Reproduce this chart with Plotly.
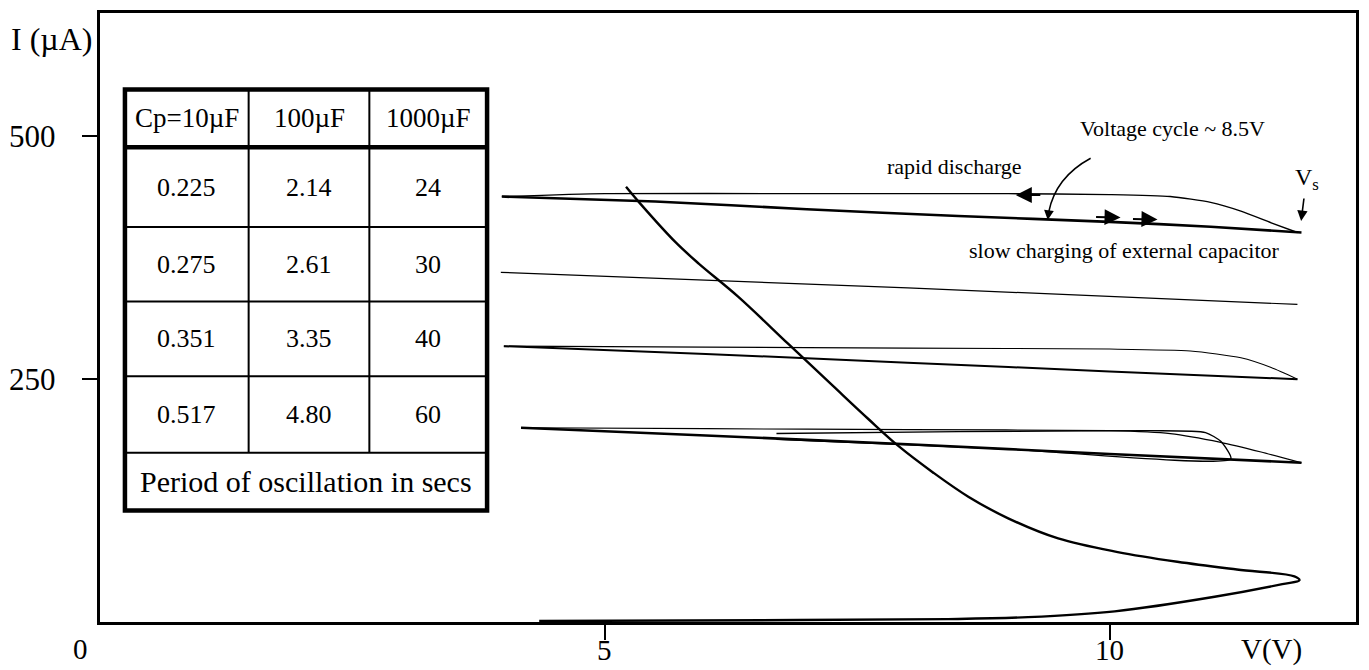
import plotly.graph_objects as go

# ---- data: current (uA) versus voltage (V) ----
# I-V characteristic of the device (load curve)
curve_v = [5.21, 5.34, 5.70, 5.93, 6.32, 6.82, 7.26, 7.61, 7.91, 8.25, 8.60, 8.99, 9.49, 10.08,
           10.67, 11.26, 11.83, 11.88, 11.71, 11.04, 10.05, 9.19, 8.40, 6.92, 4.35]
curve_i = [448, 432, 391, 369, 335, 286, 243, 209, 181, 154, 129, 107, 86, 72,
           62, 54, 47, 43, 39, 26, 11, 5, 3, 2, 1]

# cycle 1 (top trace): slow charging and rapid discharge branches
c1_charge_v = [3.98, 5.5, 7.0, 8.5, 10.0, 11.0, 11.9]
c1_charge_i = [438, 433, 425, 418, 412, 407, 401]
c1_dis_v = [3.98, 5.0, 7.0, 9.0, 10.0, 10.6, 11.0, 11.3, 11.6, 11.86]
c1_dis_i = [438, 441, 441, 441, 440, 438, 432, 423, 411, 401]

# cycle 2
c2_v = [3.97, 8.0, 11.86]
c2_i = [360, 344, 327]

# cycle 3
c3_charge_v = [4.0, 6.0, 8.0, 10.0, 11.86]
c3_charge_i = [284, 276, 267, 258, 250]
c3_dis_v = [4.0, 6.0, 8.0, 10.0, 10.8, 11.3, 11.6, 11.86]
c3_dis_i = [284, 283, 282, 281, 279, 272, 262, 250]

# cycle 4 (with inner loop)
c4_charge_v = [4.17, 6.0, 8.0, 10.0, 11.9]
c4_charge_i = [200, 192, 183, 173, 164]
c4_dis_v = [4.17, 6.0, 8.0, 10.0, 10.6, 11.1, 11.5, 11.9]
c4_dis_i = [200, 199, 198, 197, 194, 185, 175, 164]
c4_inner_v = [6.7, 9.0, 11.2, 11.1, 10.95, 10.4, 8.5, 6.7]
c4_inner_i = [188, 178, 168, 186, 195, 197, 196, 194]

# axis ticks
x_ticks = [5, 10]
x_tick_text = ["5", "10"]
y_ticks = [250, 500]
y_tick_text = ["250", "500"]

# table of oscillation periods (s)
cp_labels = ["Cp=10µF", "100µF", "1000µF"]
period_10uF = [0.225, 0.275, 0.351, 0.517]
period_100uF = [2.14, 2.61, 3.35, 4.80]
period_1000uF = [24, 30, 40, 60]
table_note = "Period of oscillation in secs"

# ---- layout geometry (pixels) ----
W, H = 1369, 670
L, R, T, B = 100, 10, 10, 48
PW, PH = W - L - R, H - T - B
X_MAX = 12.44
Y_MAX = 627

FONT = "Liberation Serif, Times New Roman, serif"


def fx(xp):
    return (xp - L) / PW


def fy(yp):
    return (H - B - yp) / PH


fig = go.Figure()


def add_line(v, i, width, smooth=0.6):
    fig.add_trace(go.Scatter(x=v, y=i, mode="lines",
                             line=dict(color="black", width=width, shape="spline", smoothing=smooth),
                             hoverinfo="skip", showlegend=False))


add_line(curve_v, curve_i, 2.4, 1.0)
add_line(c1_charge_v, c1_charge_i, 2.6)
add_line(c1_dis_v, c1_dis_i, 1.4)
add_line(c2_v, c2_i, 1.2)
add_line(c3_charge_v, c3_charge_i, 2.0)
add_line(c3_dis_v, c3_dis_i, 1.1)
add_line(c4_charge_v, c4_charge_i, 2.6)
add_line(c4_dis_v, c4_dis_i, 1.2)
add_line(c4_inner_v, c4_inner_i, 1.4)

shapes = []
annotations = []

# ---- table ----
tx0, tx1 = 125, 488
ty0, ty1 = 87, 510
col_x = [249, 370]
row_y = [225, 300, 375, 452]
head_y = 145

shapes.append(dict(type="rect", xref="paper", yref="paper",
                   x0=fx(tx0), x1=fx(tx1), y0=fy(ty1), y1=fy(ty0),
                   line=dict(color="black", width=4.5), fillcolor="white", layer="above"))
shapes.append(dict(type="line", xref="paper", yref="paper",
                   x0=fx(tx0), x1=fx(tx1), y0=fy(head_y), y1=fy(head_y),
                   line=dict(color="black", width=4.5)))
for ry in row_y:
    shapes.append(dict(type="line", xref="paper", yref="paper",
                       x0=fx(tx0), x1=fx(tx1), y0=fy(ry), y1=fy(ry),
                       line=dict(color="black", width=2)))
for cx in col_x:
    shapes.append(dict(type="line", xref="paper", yref="paper",
                       x0=fx(cx), x1=fx(cx), y0=fy(ty0), y1=fy(row_y[-1]),
                       line=dict(color="black", width=2)))

col_cx = [(tx0 + col_x[0]) / 2, (col_x[0] + col_x[1]) / 2, (col_x[1] + tx1) / 2]
row_cy = [(head_y + row_y[0]) / 2] + [(row_y[k] + row_y[k + 1]) / 2 for k in range(3)]


def txt(x, y, s, size, **kw):
    annotations.append(dict(x=fx(x), y=fy(y), xref="paper", yref="paper", text=s,
                            showarrow=False, font=dict(family=FONT, size=size, color="black"),
                            xanchor=kw.get("xanchor", "center"), yanchor="middle"))


for c, lab in enumerate(cp_labels):
    txt(col_cx[c], (ty0 + head_y) / 2, lab, 27)
for r in range(4):
    txt(col_cx[0], row_cy[r], f"{period_10uF[r]:.3f}", 26)
    txt(col_cx[1], row_cy[r], f"{period_100uF[r]:.2f}", 26)
    txt(col_cx[2], row_cy[r], f"{period_1000uF[r]:d}", 26)
txt((tx0 + tx1) / 2, (row_y[-1] + ty1) / 2, table_note, 30)

# ---- axis labels ----
txt(52, 36, "I (µA)", 32)
for v, s in zip(y_ticks, y_tick_text):
    txt(32, H - B - v * PH / Y_MAX, s, 31)
for v, s in zip(x_ticks, x_tick_text):
    txt(L + v * PW / X_MAX, 650, s, 29)
txt(80, 649, "0", 29)
txt(1274, 650, "V(V)", 29)

# ---- annotations on the cycle ----
txt(1175, 126, "Voltage cycle ~ 8.5V", 22)
txt(957, 164, "rapid discharge", 22)
txt(1127, 249, "slow charging of external capacitor", 22)
txt(1310, 177, "V<sub>s</sub>", 24)

# curved pointer from the voltage-cycle label to the charging branch
shapes.append(dict(type="path", xref="paper", yref="paper",
                   path=f"M {fx(1093)},{fy(156)} Q {fx(1058)},{fy(175)} {fx(1051)},{fy(210)}",
                   line=dict(color="black", width=1.5)))


def arrow(x, y, ax, ay, size=1.6, width=2.0):
    annotations.append(dict(x=fx(x), y=fy(y), xref="paper", yref="paper", text="",
                            showarrow=True, ax=ax, ay=ay, arrowhead=2, arrowsize=size,
                            arrowwidth=width, arrowcolor="black", standoff=0))


arrow(1050, 218, 1, -8, 1.3, 1.5)
arrow(1018, 193, 26, 0)
arrow(1123, 215.5, -26, -0.6)
arrow(1160, 217.5, -26, -0.6)
arrow(1304, 219, 3, -24, 1.3, 1.6)

fig.update_layout(
    width=W, height=H,
    margin=dict(l=L, r=R, t=T, b=B),
    paper_bgcolor="white", plot_bgcolor="white",
    shapes=shapes, annotations=annotations,
    xaxis=dict(range=[0, X_MAX], showgrid=False, zeroline=False, showline=True,
               linecolor="black", linewidth=3, mirror=True, ticks="outside",
               tickvals=x_ticks, ticklen=15, tickwidth=2, tickcolor="black",
               showticklabels=False, fixedrange=True),
    yaxis=dict(range=[0, Y_MAX], showgrid=False, zeroline=False, showline=True,
               linecolor="black", linewidth=3, mirror=True, ticks="outside",
               tickvals=y_ticks, ticklen=15, tickwidth=2, tickcolor="black",
               showticklabels=False, fixedrange=True),
)

fig.write_html("out.html", config={"displayModeBar": False})
